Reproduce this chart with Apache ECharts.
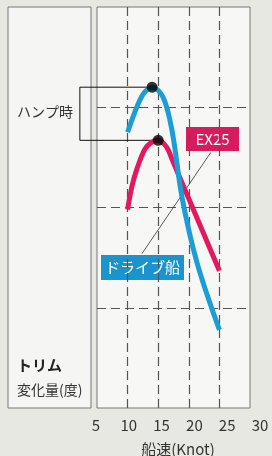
<!DOCTYPE html>
<html lang="ja">
<head>
<meta charset="utf-8">
<title>トリム変化量</title>
<style>
	html,body{margin:0;padding:0;background:#e8e8e3;}
	#chart{width:272px;height:456px;}
</style>
</head>
<body>
<div id="chart"></div>
<script src="https://cdn.jsdelivr.net/npm/echarts@6/dist/echarts.min.js"></script>
<script>
// 船速の目盛り
var speedTicks = [5, 10, 15, 20, 25, 30];
// ドライブ船
var driveSpeed = [10, 11.7, 12.8, 14, 15.8, 17.25, 18.9, 21.34, 25];
var driveTrim = [2.75, 3.03, 3.15, 3.2, 3.1, 2.77, 2.1, 1.45, 0.78];
// EX25
var exSpeed = [10, 10.7, 11.5, 12.8, 13.9, 15, 16.4, 17.4, 19.5, 22, 25];
var exTrim = [1.98, 2.21, 2.38, 2.58, 2.65, 2.67, 2.6, 2.46, 2.16, 1.8, 1.37];
// ハンプ時の枠 (左端は軸の外)
var humpX = [14, 2.2, 2.2, 15];
var humpY = [3.2, 3.2, 2.67, 2.67];
// 引き出し線
var leaderX = [23.6, 12.35];
var leaderY = [2.55, 1.54];

function pairs(xs, ys) {
	return xs.map(function (x, i) { return [x, ys[i]]; });
}

var font = '"Noto Sans CJK JP", "Noto Sans", sans-serif';
var dash = { color: '#555', width: 1.2, type: [9, 5] };
var myChart = echarts.init(document.getElementById('chart'));

var option = {
	backgroundColor: '#e8e8e3',
	animation: false,
	textStyle: { fontFamily: font },
	grid: [
		{ left: 97, top: 7, width: 153, height: 401, show: true, backgroundColor: '#f7f7f5', borderColor: '#777', borderWidth: 1, outerBoundsMode: 'none' },
		{ left: 96, top: 7, width: 164, height: 401, outerBoundsMode: 'none' },
		// 左側のパネル
		{ left: 8, top: 7, width: 83, height: 401, show: true, backgroundColor: '#f5f5f3', borderColor: '#777', borderWidth: 1, outerBoundsMode: 'none' }
	],
	xAxis: [
		{
			gridIndex: 0, type: 'value', min: 5, max: 30, interval: 5,
			axisLine: { show: false }, axisTick: { show: false }, axisLabel: { show: false },
			splitLine: { show: true, showMinLine: false, showMaxLine: false, lineStyle: dash }
		},
		{
			gridIndex: 1, type: 'value', min: 5, max: 30, interval: 5,
			axisLine: { show: false }, axisTick: { show: false }, splitLine: { show: false },
			axisLabel: {
				margin: 10, color: '#333', fontSize: 15, fontFamily: font,
				formatter: function (v) { return speedTicks.indexOf(v) >= 0 ? String(v) : ''; }
			},
			name: '船速(Knot)', nameLocation: 'middle', nameGap: 34,
			nameTextStyle: { color: '#333', fontSize: 15, fontFamily: font }
		},
		{ gridIndex: 2, type: 'value', show: false, splitLine: { show: false } }
	],
	yAxis: [
		{
			gridIndex: 0, type: 'value', min: 0, max: 4, interval: 1,
			axisLine: { show: false }, axisTick: { show: false }, axisLabel: { show: false },
			splitLine: { show: true, showMinLine: false, showMaxLine: false, lineStyle: dash }
		},
		{ gridIndex: 1, type: 'value', min: 0, max: 4, show: false },
		{ gridIndex: 2, type: 'value', show: false, splitLine: { show: false } }
	],
	series: [
		{
			name: 'leader', type: 'line', data: pairs(leaderX, leaderY),
			symbol: 'none', silent: true, z: 1,
			lineStyle: { color: '#333', width: 0.8 }
		},
		{
			name: 'EX25', type: 'line', data: pairs(exSpeed, exTrim),
			smooth: 0.35, symbol: 'none', z: 3,
			lineStyle: { color: '#e3195f', width: 5 }
		},
		{
			name: 'ドライブ船', type: 'line', data: pairs(driveSpeed, driveTrim),
			smooth: 0.35, symbol: 'none', z: 4,
			lineStyle: { color: '#1d9dd6', width: 5 }
		},
		{
			name: 'peak', type: 'scatter', z: 5, symbolSize: 11,
			itemStyle: { color: '#000' },
			data: [[driveSpeed[3], driveTrim[3]], [exSpeed[5], exTrim[5]]]
		}
	],
	graphic: [
		{ id: 'hump', type: 'polyline', z: 2, shape: { points: [] }, style: { stroke: '#111', lineWidth: 1, fill: null } },
		{ id: 't1', type: 'text', left: 17, top: 105, style: { text: 'ハンプ時', font: '14px ' + font, fill: '#333' } },
		{ id: 't2', type: 'text', left: 17, top: 358, style: { text: 'トリム', font: 'bold 15px ' + font, fill: '#222' } },
		{ id: 't3', type: 'text', left: 17, top: 383, style: { text: '変化量(度)', font: '14px ' + font, fill: '#333' } },
		{
			id: 'ex', type: 'group', left: 186, top: 127, z: 10,
			children: [
				{ type: 'rect', shape: { width: 53, height: 24 }, style: { fill: '#d81b5e' } },
				{ type: 'text', x: 26.5, y: 12, style: { text: 'EX25', font: '15px ' + font, fill: '#fff', align: 'center', verticalAlign: 'middle' } }
			]
		},
		{
			id: 'drive', type: 'group', left: 101, top: 255, z: 10,
			children: [
				{ type: 'rect', shape: { width: 83, height: 25 }, style: { fill: '#1b93cc' } },
				{ type: 'text', x: 41.5, y: 12.5, style: { text: 'ドライブ船', font: '15px ' + font, fill: '#fff', align: 'center', verticalAlign: 'middle' } }
			]
		}
	]
};
myChart.setOption(option);

// ハンプ時の枠を軸の座標から描く
var humpPts = pairs(humpX, humpY).map(function (p) {
	return myChart.convertToPixel({ gridIndex: 0 }, p);
});
myChart.setOption({ graphic: [{ id: 'hump', shape: { points: humpPts } }] });
</script>
</body>
</html>
